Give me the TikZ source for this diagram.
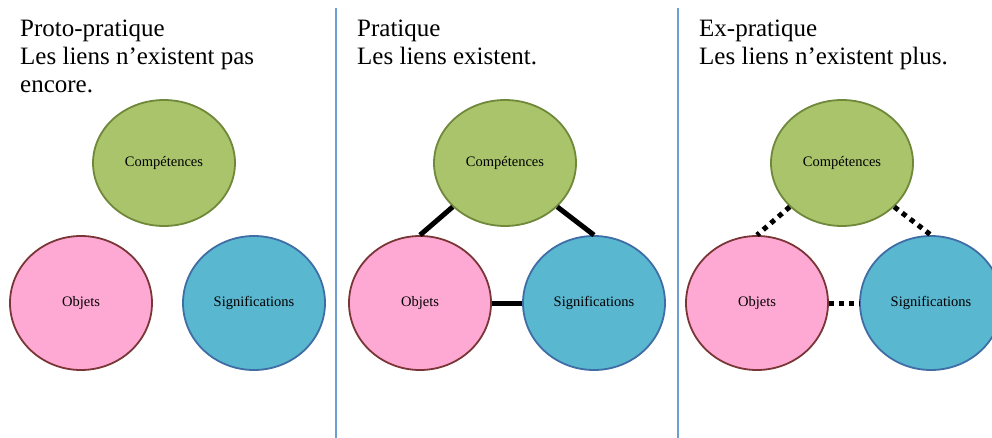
\documentclass[tikz,border=0pt]{standalone}
\usepackage{fontspec}
\setmainfont{Liberation Serif}
\usetikzlibrary{shapes.geometric}
\definecolor{cgreen}{HTML}{A9C46B}
\definecolor{cgreenb}{HTML}{6F883A}
\definecolor{cpink}{HTML}{FEA9D3}
\definecolor{cpinkb}{HTML}{7A3636}
\definecolor{cblue}{HTML}{5AB7D0}
\definecolor{cblueb}{HTML}{3F6DA5}
\definecolor{divider}{HTML}{6D9ED6}
\tikzset{
  bubble/.style={ellipse, draw, line width=1.8pt, inner sep=0pt, minimum width=142pt,
    font=\fontsize{14.5}{16}\selectfont},
  comp/.style={bubble, fill=cgreen, draw=cgreenb, minimum height=126pt},
  obj/.style={bubble, fill=cpink, draw=cpinkb, minimum height=134pt},
  sig/.style={bubble, fill=cblue, draw=cblueb, minimum height=134pt},
  title/.style={anchor=base west, align=left, inner sep=0pt, font=\fontsize{25}{28}\selectfont},
  link/.style={line width=5pt, black},
  dotlink/.style={line width=5pt, black, dash pattern=on 5pt off 5pt},
  divline/.style={line width=2pt, divider}
}
\begin{document}
\begin{tikzpicture}[x=1pt,y=-1pt]
\useasboundingbox (0,0) rectangle (992,438);
% dividers
\coordinate (d1t) at (336,8); \coordinate (d1b) at (336,438);
\coordinate (d2t) at (678,8); \coordinate (d2b) at (678,438);
\draw[divline] (d1t) -- (d1b);
\draw[divline] (d2t) -- (d2b);
% titles (anchored at the baseline of their last line)
\node[title] (t1) at (20,93) {Proto-pratique\\Les liens n’existent pas\\encore.};
\node[title] (t2) at (357,65) {Pratique\\Les liens existent.};
\node[title] (t3) at (699,65) {Ex-pratique\\Les liens n’existent plus.};
% panel 1
\node[comp] (C1) at (164,163) {Compétences};
\node[obj] (O1) at (81,303) {Objets};
\node[sig] (S1) at (254,303) {Significations};
% panel 2
\node[comp] (C2) at (505,163) {Compétences};
\node[obj] (O2) at (420,303) {Objets};
\node[sig] (S2) at (594,303) {Significations};
% panel 3
\node[comp] (C3) at (842,163) {Compétences};
\node[obj] (O3) at (757,303) {Objets};
\node[sig] (S3) at (931,303) {Significations};
% links
\draw[link] (C2.220) -- (O2.north);
\draw[link] (C2.320) -- (S2.north);
\draw[link] (O2.east) -- (S2.west);
\draw[dotlink] (C3.220) -- (O3.north);
\draw[dotlink] (C3.320) -- (S3.north);
\draw[dotlink] (O3.east) -- (S3.west);
\end{tikzpicture}
\end{document}
